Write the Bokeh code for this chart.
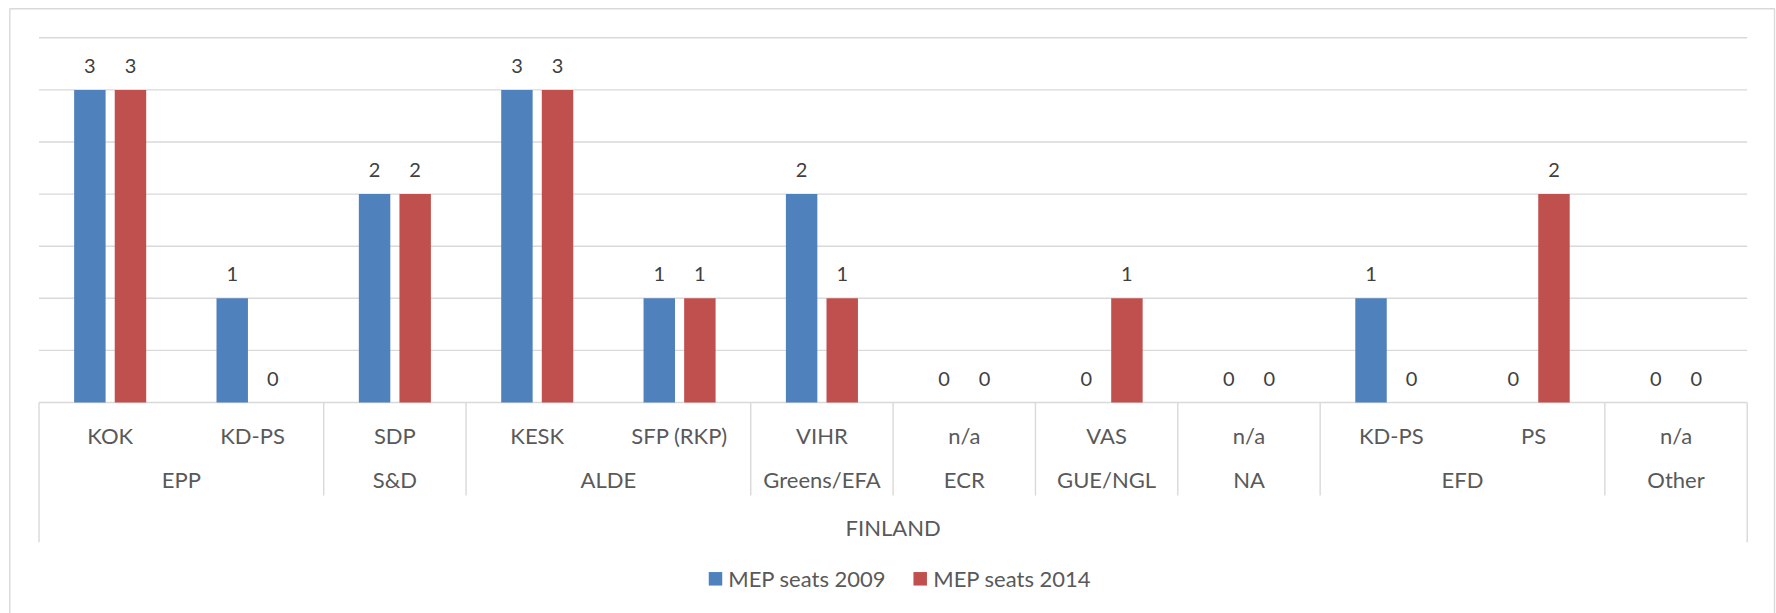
from bokeh.plotting import figure
from bokeh.models import Range1d, ColumnDataSource
from bokeh.core.properties import value
from bokeh.embed import file_html
from bokeh.resources import INLINE

# ---------------- data ----------------
parties = ["KOK", "KD-PS", "SDP", "KESK", "SFP (RKP)", "VIHR", "n/a", "VAS", "n/a", "KD-PS", "PS", "n/a"]
groups = ["EPP", "S&D", "ALDE", "Greens/EFA", "ECR", "GUE/NGL", "NA", "EFD", "Other"]
group_sizes = [2, 1, 2, 1, 1, 1, 1, 2, 1]
country = "FINLAND"
seats_2009 = [3, 1, 2, 3, 1, 2, 0, 0, 0, 1, 0, 0]
seats_2014 = [3, 0, 2, 3, 1, 1, 0, 1, 0, 0, 2, 0]
series_names = ["MEP seats 2009", "MEP seats 2014"]
grid_values = [0.5, 1.0, 1.5, 2.0, 2.5, 3.0, 3.5]

# ---------------- layout (pixels) ----------------
W, H = 1776, 613
PLOT_LEFT = 38.5      # x pixel of category axis start
CW = 142.35           # pixels per category
BASE = 402.0          # y pixel of value 0
UH = 104.2            # pixels per seat
FONT = value("Lato")
AXIS_COLOR = "#595959"
LABEL_COLOR = "#404040"
LINE_COLOR = "#D9D9D9"
BLUE = "#4F81BD"
RED = "#C0504D"
BAR_W = 0.221
BAR_OFF = 0.1426


def xd(px):
    return (px - PLOT_LEFT) / CW


def yd(py):
    return (BASE - py) / UH


p = figure(width=W, height=H, output_backend="svg", toolbar_location=None,
           x_range=Range1d(xd(0), xd(W)), y_range=Range1d(yd(H), yd(0)),
           x_axis_type=None, y_axis_type=None, min_border=0)
p.outline_line_color = None
p.xgrid.visible = False
p.ygrid.visible = False
p.background_fill_color = "white"
p.border_fill_color = "white"

n = len(parties)

# chart-area border (left, top, right)
p.line(x=[xd(9.3), xd(9.3), xd(1774), xd(1774)],
       y=[yd(H + 20), yd(8.3), yd(8.3), yd(H + 20)],
       line_color=LINE_COLOR, line_width=1.4)

# gridlines and baseline
p.segment(x0=[0] * (len(grid_values) + 1), x1=[n] * (len(grid_values) + 1),
          y0=[0.0] + grid_values, y1=[0.0] + grid_values,
          line_color=LINE_COLOR, line_width=1.4)

# group separators
bounds = [0]
for s in group_sizes:
    bounds.append(bounds[-1] + s)
inner = bounds[1:-1]
p.segment(x0=inner, x1=inner, y0=[0] * len(inner), y1=[yd(BASE + 93)] * len(inner),
          line_color=LINE_COLOR, line_width=1.4)
outer = [bounds[0], bounds[-1]]
p.segment(x0=outer, x1=outer, y0=[0, 0], y1=[yd(BASE + 139.7)] * 2,
          line_color=LINE_COLOR, line_width=1.4)

# bars
idx = list(range(n))
src = ColumnDataSource(dict(
    x09=[i + 0.5 - BAR_OFF for i in idx], x14=[i + 0.5 + BAR_OFF for i in idx],
    s09=seats_2009, s14=seats_2014,
    t09=[str(v) for v in seats_2009], t14=[str(v) for v in seats_2014],
))
p.vbar(x="x09", top="s09", bottom=0, width=BAR_W, source=src, fill_color=BLUE, line_color=None)
p.vbar(x="x14", top="s14", bottom=0, width=BAR_W, source=src, fill_color=RED, line_color=None)

# data labels
for xc, yc, tc in (("x09", "s09", "t09"), ("x14", "s14", "t14")):
    p.text(x=xc, y=yc, text=tc, source=src, text_font=FONT, text_font_size="20px",
           text_color=LABEL_COLOR, text_align="center", text_baseline="middle",
           y_offset=-24)

# party labels
p.text(x=[i + 0.5 for i in idx], y=[0] * n, text=parties, text_font=FONT,
       text_font_size="22px", text_color=AXIS_COLOR, text_align="center",
       text_baseline="middle", y_offset=33)

# group labels
gx = [(bounds[k] + bounds[k + 1]) / 2 for k in range(len(groups))]
p.text(x=gx, y=[0] * len(groups), text=groups, text_font=FONT,
       text_font_size="22px", text_color=AXIS_COLOR, text_align="center",
       text_baseline="middle", y_offset=77)

# country label
p.text(x=[n / 2], y=[0], text=[country], text_font=FONT,
       text_font_size="22px", text_color=AXIS_COLOR, text_align="center",
       text_baseline="middle", y_offset=124.7)

# legend (manual)
leg_y = yd(578.3)
p.scatter(x=[xd(715), xd(919.7)], y=[leg_y, leg_y], marker="square", size=13.5,
          fill_color=[BLUE, RED], line_color=None)
p.text(x=[xd(727.7), xd(932.7)], y=[leg_y, leg_y], text=series_names,
       text_font=FONT, text_font_size="22px", text_color=AXIS_COLOR,
       text_align="left", text_baseline="middle")

open("out.html", "w").write(file_html(p, INLINE))
